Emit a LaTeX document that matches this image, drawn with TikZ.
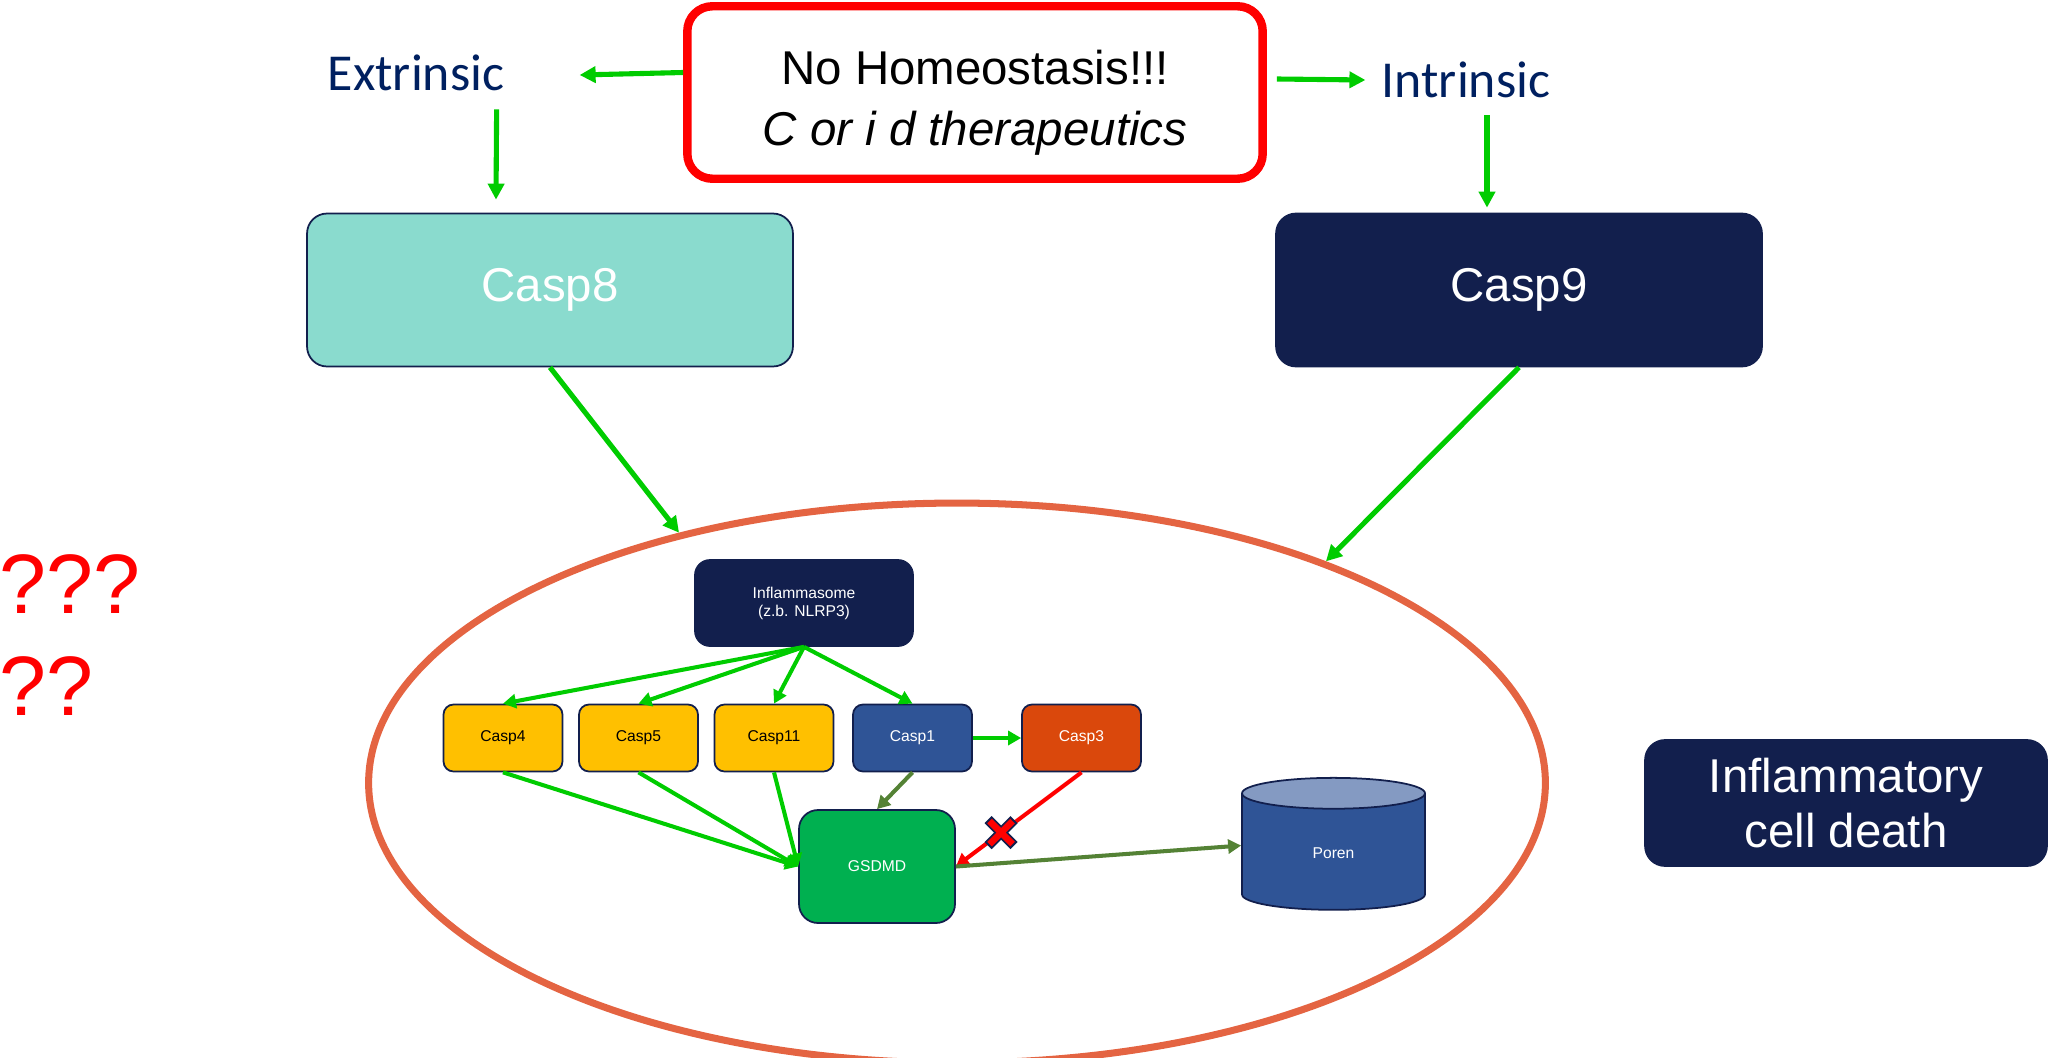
\documentclass[tikz,border=0pt]{standalone}
\usepackage{fontspec}
\setmainfont{Liberation Sans}
\newfontfamily\calibri{Carlito}
\usetikzlibrary{arrows.meta,shapes.geometric,calc}
\definecolor{navyblue}{RGB}{18,31,77}
\definecolor{textblue}{RGB}{0,32,96}
\definecolor{brightgreen}{RGB}{0,204,0}
\definecolor{olivegreen}{RGB}{84,130,53}
\definecolor{casplight}{RGB}{138,219,206}
\definecolor{caspyellow}{RGB}{255,192,0}
\definecolor{caspblue}{RGB}{47,84,150}
\definecolor{casporange}{RGB}{218,72,12}
\definecolor{gsdmdgreen}{RGB}{0,176,80}
\definecolor{ringorange}{RGB}{228,100,66}
\definecolor{poretop}{RGB}{132,154,194}

\begin{document}
\begin{tikzpicture}[x=0.02cm, y=-0.02cm,
    bigbox/.style={draw=navyblue, line width=1pt, rounded corners=0.4cm, text=white,
      align=center, font=\fontsize{27}{31}\selectfont},
    smallbox/.style={draw=navyblue, line width=1pt, rounded corners=0.2cm, minimum width=2.38cm,
      minimum height=1.34cm, inner sep=0pt, font=\fontsize{8.9}{10.2}\selectfont},
    pathlabel/.style={text=textblue, inner sep=0pt, font=\calibri\fontsize{29.5}{35}\selectfont},
    garrow/.style={-{Triangle[length=0.32cm,width=0.32cm]}, brightgreen, line width=2.9pt},
    sarrow/.style={-{Triangle[length=0.26cm,width=0.28cm]}, line width=2.3pt}]
\useasboundingbox (0,0) rectangle (2049,1058);

% Trigger and the two pathways
\node[draw=red, line width=4.8pt, rounded corners=0.5cm, minimum width=11.51cm, minimum height=3.45cm,
  align=center, font=\fontsize{27}{35}\selectfont] (homeo) at (975,92.5)
  {\rule{0pt}{31pt}No Homeostasis!!!\\\textit{C or i d therapeutics}};
\node[pathlabel] (extr) at (416,73) {Extrinsic};
\node[pathlabel] (intr) at (1466,80) {Intrinsic};

\node[bigbox, fill=casplight, minimum width=9.72cm, minimum height=3.06cm] (casp8) at (550,290) {Casp8};
\node[bigbox, fill=navyblue, minimum width=9.72cm, minimum height=3.06cm] (casp9) at (1519,290) {Casp9};

\draw[garrow] ([yshift=0.4cm]homeo.west) -- ($(extr.east)+(75,2)$);
\draw[garrow] ($(homeo.east)+(10,-13.5)$) -- ($(intr.west)+(-16,0)$);
\draw[garrow] ($(extr.south east)+(-8,18)$) -- ($(casp8.north)+(-54,-13)$);
\draw[garrow] ($(intr.south)+(21,17)$) -- ($(casp9.north)+(-32,-5)$);

% Question marks
\node[anchor=base west, inner sep=0pt, text=red, font=\fontsize{48}{52}\selectfont] (qa) at (-1,613) {???};
\node[anchor=base west, inner sep=0pt, text=red, font=\fontsize{48}{52}\selectfont] (qb) at (-1,715) {??};

% The cell
\node[ellipse, draw=ringorange, line width=4pt, minimum width=23.54cm, minimum height=11.2cm] (cell) at (957,783) {};
\draw[garrow] (casp8.south) -- (cell.138);
\draw[garrow] (casp9.south) -- (cell.31);

\node[smallbox, fill=navyblue, text=white, minimum width=4.36cm, minimum height=1.72cm, rounded corners=0.3cm,
  align=center] (inflam) at (804,603) {Inflammasome\\(z.b. NLRP3)};

\node[smallbox, fill=caspyellow] (casp4) at (503,738) {Casp4};
\node[smallbox, fill=caspyellow] (casp5) at (638.5,738) {Casp5};
\node[smallbox, fill=caspyellow] (casp11) at (774,738) {Casp11};
\node[smallbox, fill=caspblue, text=white] (casp1) at (912.5,738) {Casp1};
\node[smallbox, fill=casporange, text=white] (casp3) at (1081.5,738) {Casp3};

\node[smallbox, fill=gsdmdgreen, text=white, minimum width=3.12cm, minimum height=2.26cm, rounded corners=0.38cm]
  (gsdmd) at (877,866.5) {GSDMD};

\node[cylinder, shape border rotate=90, aspect=0.74, draw=navyblue, line width=1pt,
  cylinder uses custom fill, cylinder body fill=caspblue, cylinder end fill=poretop,
  minimum width=3.66cm, minimum height=2.64cm, inner sep=0pt, text=white,
  font=\fontsize{8.9}{10.2}\selectfont] (poren) at (1333.5,852) {\raisebox{-0.28cm}{Poren}};

\foreach \c in {casp4,casp5,casp11,casp1}
  \draw[sarrow, brightgreen] (inflam.south) -- (\c.north);
\foreach \c in {casp4,casp5,casp11}
  \draw[sarrow, brightgreen] (\c.south) -- (gsdmd.west);
\draw[sarrow, brightgreen] (casp1) -- (casp3);
\draw[sarrow, olivegreen] (casp1.south) -- (gsdmd.north);
\draw[sarrow, red] (casp3.south) -- coordinate[pos=0.64] (block) (gsdmd.east);
\draw[sarrow, olivegreen] (gsdmd.east) -- (poren.176);

% blocked step
\draw[navyblue, line width=5.7pt] ($(block)+(-13,-13)$) -- ($(block)+(13,13)$)
  ($(block)+(-13,13)$) -- ($(block)+(13,-13)$);
\draw[red, line width=3.7pt] ($(block)+(-11.5,-11.5)$) -- ($(block)+(11.5,11.5)$)
  ($(block)+(-11.5,11.5)$) -- ($(block)+(11.5,-11.5)$);

% Outcome
\node[bigbox, fill=navyblue, minimum width=8.04cm, minimum height=2.52cm] (death) at (1846,803)
  {Inflammatory\\cell death};
\end{tikzpicture}
\end{document}
